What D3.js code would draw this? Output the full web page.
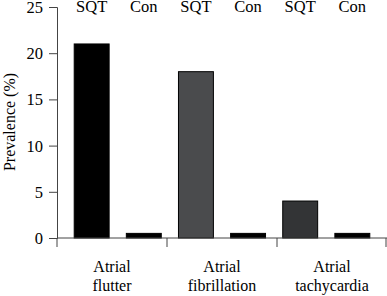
<!DOCTYPE html>
<html>
<head>
<meta charset="utf-8">
<script src="https://cdn.jsdelivr.net/npm/d3@7"></script>
<style>
  body { margin: 0; background: #fff; }
</style>
</head>
<body>
<div id="chart"></div>
<script>
var groups = ["Atrial flutter", "Atrial fibrillation", "Atrial tachycardia"];
var series = ["SQT", "Con"];
var sqtValues = [21, 18, 4];
var conValues = [0.5, 0.5, 0.5];
var sqtColors = ["#000000", "#4a4b4d", "#333436"];
var yTicks = [0, 5, 10, 15, 20, 25];

var FONT = "'Liberation Serif', serif";
var width = 387, height = 296;
var margin = {top: 7, right: 0, bottom: 58, left: 57};

var svg = d3.select("#chart")
    .append("svg")
    .attr("width", width)
    .attr("height", height);

// one entry per bar
var bars = [];
for (var i = 0; i < groups.length; i++) {
    bars.push({group: groups[i], series: series[0], value: sqtValues[i], color: sqtColors[i]});
    bars.push({group: groups[i], series: series[1], value: conValues[i], color: "#000000"});
}

var xGroup = d3.scaleBand()
    .range([margin.left, width - margin.right])
    .domain(groups);

var x = d3.scaleBand()
    .range([margin.left, width - margin.right])
    .domain(d3.range(bars.length))
    .padding(0.33);

var y = d3.scaleLinear()
    .domain([0, 25])
    .range([height - margin.bottom, margin.top]);

// bars
svg.selectAll(".bar")
    .data(bars)
    .enter()
    .append("rect")
    .attr("class", "bar")
    .attr("x", function(d, i) { return x(i); })
    .attr("y", function(d) { return y(d.value); })
    .attr("width", x.bandwidth())
    .attr("height", function(d) { return y(0) - y(d.value); })
    .style("fill", function(d) { return d.color; })
    .style("stroke", "#000")
    .style("stroke-width", 1);

// series labels along the top
svg.selectAll(".slabel")
    .data(bars)
    .enter()
    .append("text")
    .attr("class", "slabel")
    .attr("x", function(d, i) { return x(i) + x.bandwidth() / 2; })
    .attr("y", margin.top + 5)
    .attr("text-anchor", "middle")
    .style("font-family", FONT)
    .style("font-size", "16.5px")
    .text(function(d) { return d.series; });

// y axis
var yAxis = svg.append("g")
    .attr("transform", "translate(" + margin.left + ",0)")
    .call(d3.axisLeft(y).tickValues(yTicks).tickSize(8).tickPadding(6));
yAxis.select(".domain").attr("stroke", "#444");
yAxis.selectAll(".tick line").attr("stroke", "#444");
yAxis.selectAll("text")
    .style("font-size", "16.5px")
    .style("font-family", FONT)
    .attr("dy", "0.33em");

// x axis with group boundary ticks
var xAxis = svg.append("g")
    .attr("transform", "translate(0," + y(0) + ")");
xAxis.append("line")
    .attr("x1", margin.left)
    .attr("x2", width)
    .attr("stroke", "#444");
var bounds = groups.map(function(g) { return xGroup(g); });
bounds.push(width - 1);
xAxis.selectAll(".xt")
    .data(bounds)
    .enter()
    .append("line")
    .attr("class", "xt")
    .attr("x1", function(d) { return d; })
    .attr("x2", function(d) { return d; })
    .attr("y1", 0)
    .attr("y2", 9)
    .attr("stroke", "#444");

// group labels, two lines
var gl = svg.selectAll(".glabel")
    .data(groups)
    .enter()
    .append("text")
    .attr("class", "glabel")
    .attr("text-anchor", "middle")
    .style("font-family", FONT)
    .style("font-size", "16px");
gl.each(function(d) {
    var parts = d.split(" ");
    var t = d3.select(this);
    var cx = xGroup(d) + xGroup.bandwidth() / 2;
    parts.forEach(function(p, k) {
        t.append("tspan")
            .attr("x", cx)
            .attr("y", 272 + k * 19)
            .text(p);
    });
});

// y title
svg.append("text")
    .attr("transform", "translate(15," + 122 + ") rotate(-90)")
    .attr("text-anchor", "middle")
    .style("font-family", FONT)
    .style("font-size", "16px")
    .text("Prevalence (%)");
</script>
</body>
</html>
